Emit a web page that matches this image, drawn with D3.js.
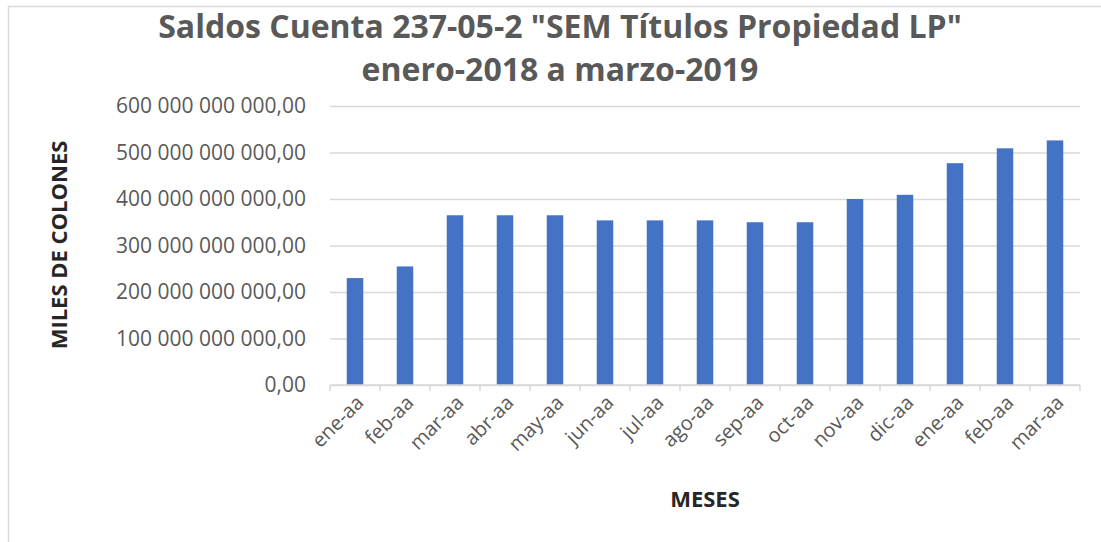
<!DOCTYPE html>
<meta charset="utf-8">
<style>
    body {
        margin: 0;
        background: #fff;
        font-family: 'Open Sans', sans-serif;
    }

    .grid line {
        stroke: #d9d9d9;
        stroke-width: 1.3;
    }

    .grid .domain {
        display: none;
    }
</style>
<svg width="1101" height="542"></svg>
<script src="https://d3js.org/d3.v7.min.js"></script>
<script>
    // data (values in colones, miles)
    var months = ["ene-aa", "feb-aa", "mar-aa", "abr-aa", "may-aa", "jun-aa", "jul-aa", "ago-aa",
        "sep-aa", "oct-aa", "nov-aa", "dic-aa", "ene-aa", "feb-aa", "mar-aa"];
    var saldos = [230e9, 255e9, 365e9, 365e9, 365e9, 354e9, 354e9, 354e9,
        350e9, 350e9, 400e9, 409e9, 477e9, 509e9, 526e9];
    var yTicks = [0, 100e9, 200e9, 300e9, 400e9, 500e9, 600e9];
    var titleLines = ["Saldos Cuenta 237-05-2 \"SEM Títulos Propiedad LP\"", "enero-2018 a marzo-2019"];

    var svg = d3.select("svg"),
        margin = {top: 106, right: 21, bottom: 157, left: 330},
        width = +svg.attr("width") - margin.left - margin.right,
        height = +svg.attr("height") - margin.top - margin.bottom;

    var textColor = "#595959";

    // outer chart frame
    svg.append("rect")
        .attr("x", 8.5)
        .attr("y", 6.5)
        .attr("width", 1110)
        .attr("height", 560)
        .attr("fill", "none")
        .attr("stroke", "#d9d9d9")
        .attr("stroke-width", 1.5);

    var g = svg.append("g").attr("transform", "translate(" + margin.left + "," + margin.top + ")");

    // band index so repeated month names stay separate
    var x = d3.scaleBand()
        .domain(d3.range(months.length))
        .range([0, width])
        .paddingInner(0.67)
        .paddingOuter(0.335);

    var xCat = d3.scaleBand()
        .domain(d3.range(months.length))
        .range([0, width]);

    var y = d3.scaleLinear()
        .domain([0, 600e9])
        .range([height, 0]);

    var fmt = function (v) {
        var s = d3.format(",.2f")(v);
        return s.replace(/,/g, " ").replace(".", ",");
    };

    // gridlines
    g.append("g")
        .attr("class", "grid")
        .call(d3.axisLeft(y).tickValues(yTicks).tickSize(-width).tickFormat(""));

    // y labels
    g.append("g")
        .selectAll("text")
        .data(yTicks)
        .enter().append("text")
        .attr("x", -24)
        .attr("y", function (d) { return y(d); })
        .attr("dy", "0.35em")
        .attr("text-anchor", "end")
        .attr("fill", textColor)
        .attr("font-size", 21)
        .text(fmt);

    // bars
    g.append("g")
        .selectAll("rect")
        .data(saldos)
        .enter().append("rect")
        .attr("x", function (d, i) { return x(i); })
        .attr("y", function (d) { return y(d); })
        .attr("width", x.bandwidth())
        .attr("height", function (d) { return height - y(d); })
        .attr("fill", "#4472c4");

    // x axis line and ticks between categories
    var xAxis = g.append("g").attr("transform", "translate(0," + height + ")");
    xAxis.append("line")
        .attr("x1", 0).attr("x2", width)
        .attr("stroke", "#d9d9d9").attr("stroke-width", 1.5);
    xAxis.selectAll("line.tick")
        .data(d3.range(months.length + 1))
        .enter().append("line")
        .attr("class", "tick")
        .attr("x1", function (i) { return i * xCat.step(); })
        .attr("x2", function (i) { return i * xCat.step(); })
        .attr("y1", 0).attr("y2", 6)
        .attr("stroke", "#d9d9d9").attr("stroke-width", 1.5);

    xAxis.selectAll("text")
        .data(months)
        .enter().append("text")
        .attr("transform", function (d, i) {
            return "translate(" + (xCat(i) + xCat.bandwidth() / 2 + 5) + ",14) rotate(-45)";
        })
        .attr("text-anchor", "end")
        .attr("dy", "0.35em")
        .attr("fill", textColor)
        .attr("font-size", 20)
        .text(function (d) { return d; });

    // title
    svg.append("g")
        .selectAll("text")
        .data(titleLines)
        .enter().append("text")
        .attr("x", 560)
        .attr("y", function (d, i) { return 38 + i * 43; })
        .attr("text-anchor", "middle")
        .attr("fill", textColor)
        .attr("font-weight", "bold")
        .attr("font-size", 32)
        .text(function (d) { return d; });

    // axis titles
    svg.append("text")
        .attr("transform", "translate(67,245) rotate(-90)")
        .attr("text-anchor", "middle")
        .attr("fill", "#262626")
        .attr("font-weight", "bold")
        .attr("font-size", 22)
        .text("MILES DE COLONES");

    svg.append("text")
        .attr("x", 705)
        .attr("y", 507)
        .attr("text-anchor", "middle")
        .attr("fill", "#262626")
        .attr("font-weight", "bold")
        .attr("font-size", 22)
        .text("MESES");
</script>
